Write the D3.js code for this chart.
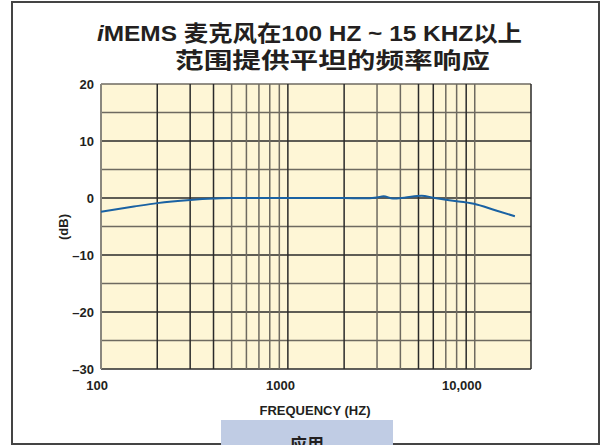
<!DOCTYPE html>
<html>
<head>
<meta charset="utf-8">
<script src="https://cdn.jsdelivr.net/npm/d3@7"></script>
<style>
  body { margin: 0; background: #fff; }
  svg text { font-family: 'Liberation Sans Narrow', 'Liberation Sans', 'Noto Sans CJK SC', sans-serif; font-weight: bold; fill: #231f20; }
</style>
</head>
<body>
<div id="root"></div>
<script>
// frequency response
const freqs = [100, 150, 200, 300, 400, 500, 700, 1000, 1500, 2000, 2500, 3000, 3250, 3650, 4200, 5200, 6000, 7300, 9900, 13000, 16400]
const dbValues = [-2.4, -1.5, -0.9, -0.35, -0.1, 0, 0, 0, 0, 0, -0.05, 0.1, 0.3, -0.1, 0.05, 0.4, 0.05, -0.4, -1.0, -2.2, -3.2]

const yTicks = [20, 10, 0, -10, -20, -30]
const yGrid = [20, 15, 10, 5, 0, -5, -10, -15, -20, -25, -30]
const xLabels = [100, 1000, 10000]
const xLabelText = ['100', '1000', '10,000']
const xGrid = [100, 200, 300, 400, 500, 600, 700, 800, 900,
  1000, 2000, 3000, 4000, 5000, 6000, 7000, 8000, 9000, 10000, 20000]
// some grid lines print darker than others in the original
const xDark = [200, 300, 400, 1000, 2000, 5000, 6000, 9000, 20000]
const yDark = [10, 0, -10, -20, -30]

const dimensions = {
  width: 601,
  height: 445,
  plot: { left: 101, right: 531, top: 84, bottom: 369 }
}

const svg = d3.select('#root').append('svg')
  .attr('width', dimensions.width)
  .attr('height', dimensions.height)

const xScale = d3.scaleLog()
  .domain([100, 20000])
  .range([dimensions.plot.left, dimensions.plot.right])
const yScale = d3.scaleLinear()
  .domain([-30, 20])
  .range([dimensions.plot.bottom, dimensions.plot.top])

// outer frame
svg.append('rect')
  .attr('x', 12).attr('y', 2)
  .attr('width', 587).attr('height', 442)
  .attr('fill', 'none')
  .attr('stroke', '#444')
  .attr('stroke-width', 2)

// title
const title = svg.append('g')
title.append('text')
  .attr('x', 97).attr('y', 41)
  .attr('textLength', 425)
  .attr('lengthAdjust', 'spacingAndGlyphs')
  .style('font-size', '22px')
  .call(t => {
    t.append('tspan').style('font-style', 'italic').text('i')
    t.append('tspan').text('MEMS 麦克风在100 HZ ~ 15 KHZ以上')
  })
title.append('text')
  .attr('x', 175).attr('y', 68)
  .attr('textLength', 315)
  .attr('lengthAdjust', 'spacingAndGlyphs')
  .style('font-size', '22px')
  .text('范围提供平坦的频率响应')

// plot background
svg.append('rect')
  .attr('x', dimensions.plot.left)
  .attr('y', dimensions.plot.top)
  .attr('width', dimensions.plot.right - dimensions.plot.left)
  .attr('height', dimensions.plot.bottom - dimensions.plot.top)
  .attr('fill', '#fef6d6')

const grid = svg.append('g')
grid.selectAll('line.h')
  .data(yGrid)
  .join('line')
  .attr('class', 'h')
  .attr('x1', dimensions.plot.left)
  .attr('x2', dimensions.plot.right)
  .attr('y1', d => yScale(d))
  .attr('y2', d => yScale(d))
  .attr('stroke', d => yDark.includes(d) ? '#2a2a2a' : '#6e6a60')
  .attr('stroke-width', 1.5)
grid.selectAll('line.v')
  .data(xGrid)
  .join('line')
  .attr('class', 'v')
  .attr('x1', d => xScale(d))
  .attr('x2', d => xScale(d))
  .attr('y1', dimensions.plot.top)
  .attr('y2', dimensions.plot.bottom)
  .attr('stroke', d => xDark.includes(d) ? '#2a2a2a' : '#6e6a60')
  .attr('stroke-width', 1.5)
// left edge is grey in the print
grid.append('line')
  .attr('x1', dimensions.plot.left).attr('x2', dimensions.plot.left)
  .attr('y1', dimensions.plot.top).attr('y2', dimensions.plot.bottom)
  .attr('stroke', '#8a877e').attr('stroke-width', 2)

// response curve
const line = d3.line()
  .x((d, i) => xScale(freqs[i]))
  .y(d => yScale(d))
  .curve(d3.curveMonotoneX)
svg.append('path')
  .datum(dbValues)
  .attr('d', line)
  .attr('fill', 'none')
  .attr('stroke', '#1a62a3')
  .attr('stroke-width', 2)

// y labels
svg.append('g').selectAll('text')
  .data(yTicks)
  .join('text')
  .attr('x', 94)
  .attr('y', d => yScale(d))
  .attr('dy', '0.35em')
  .attr('text-anchor', 'end')
  .style('font-size', '13px')
  .text(d => d < 0 ? '–' + Math.abs(d) : d)

// x labels
svg.append('g').selectAll('text')
  .data(xLabels)
  .join('text')
  .attr('x', d => xScale(d) + 7)
  .attr('y', 390)
  .attr('text-anchor', 'end')
  .style('font-size', '13px')
  .text((d, i) => xLabelText[i])

svg.append('text')
  .attr('x', 315).attr('y', 415)
  .attr('text-anchor', 'middle')
  .style('font-size', '13px')
  .text('FREQUENCY (HZ)')

svg.append('text')
  .attr('transform', 'translate(68, 227) rotate(-90)')
  .attr('text-anchor', 'middle')
  .style('font-size', '13px')
  .text('(dB)')

// tab at the bottom
svg.append('rect')
  .attr('x', 221).attr('y', 420)
  .attr('width', 172).attr('height', 26)
  .attr('fill', '#c0cce4')
svg.append('text')
  .attr('x', 307).attr('y', 451)
  .attr('text-anchor', 'middle')
  .style('font-size', '17px')
  .text('应用')
</script>
</body>
</html>
